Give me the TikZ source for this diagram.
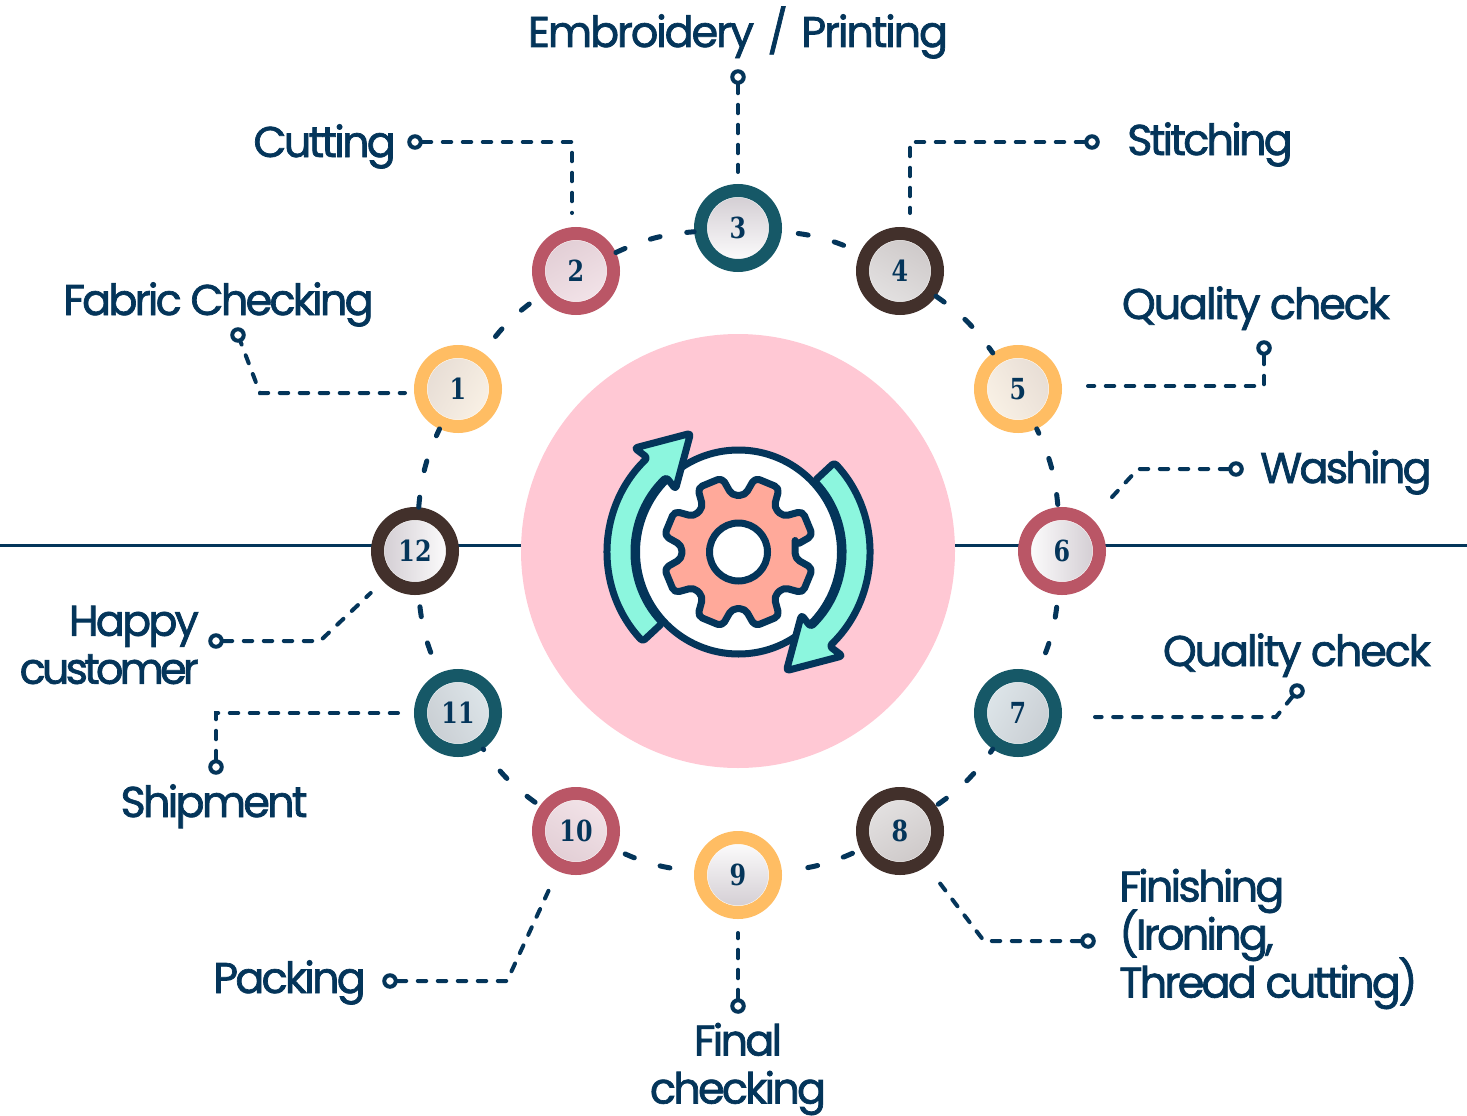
\documentclass[tikz,border=0pt]{standalone}
\usepackage{fontspec}
\setmainfont{Poppins}[LetterSpace=-6.5, FakeBold=1.6]
\newfontfamily\numfont{DejaVu Serif}[FakeStretch=0.82]
\usepackage{tikz}
\definecolor{navy}{HTML}{04355A}
\definecolor{blush}{HTML}{FFC8D4}
\definecolor{mint}{HTML}{8CF6DE}
\definecolor{salmon}{HTML}{FFA99A}
\definecolor{amber}{HTML}{FFBD63}
\definecolor{wine}{HTML}{BA5666}
\definecolor{petrol}{HTML}{165867}
\definecolor{umber}{HTML}{42302B}
\definecolor{creamtop}{RGB}{230,220,212}
\definecolor{creamend}{RGB}{250,242,230}
\definecolor{rosetop}{RGB}{225,205,212}
\definecolor{roseend}{RGB}{243,228,233}
\definecolor{stonetop}{RGB}{205,200,200}
\definecolor{stoneend}{RGB}{228,226,226}
\definecolor{steeltop}{RGB}{200,205,210}
\definecolor{steelend}{RGB}{222,230,234}
\definecolor{plaintop}{RGB}{208,202,208}
\newcommand{\tightlines}{\setlength{\lineskiplimit}{-50pt}}
\newcommand{\tightword}{\addfontfeature{LetterSpace=-9}}
\newcommand{\looseword}{\addfontfeature{LetterSpace=-5}}
\tikzstyle{stepring} = [circle, minimum size=75pt, inner sep=0pt, line width=13pt, text=navy, font=\numfont\bfseries\fontsize{29}{29}\selectfont, path picture={\draw[white, line width=2pt] (path picture bounding box.center) circle (31.5pt);}]
\tikzstyle{tintcream} = [top color=creamtop, bottom color=creamend]
\tikzstyle{tintrose} = [top color=rosetop, bottom color=roseend]
\tikzstyle{tintstone} = [top color=stonetop, bottom color=stoneend]
\tikzstyle{tintsteel} = [top color=steeltop, bottom color=steelend]
\tikzstyle{tintplain} = [top color=plaintop, bottom color=white]
\tikzstyle{tag} = [circle, draw=navy, fill=white, line width=4pt, minimum size=11.5pt, inner sep=0pt]
\tikzstyle{caption} = [text=navy, font=\fontsize{43}{48}\selectfont\tightlines, inner sep=0pt]
\tikzstyle{ringdash} = [draw=navy, line width=5pt, line cap=round, bend left=10, dash pattern=on 10pt off 27pt]
\tikzstyle{leader} = [draw=navy, line width=4pt, line cap=round, dash pattern=on 8.5pt off 11.5pt]
\tikzstyle{iconline} = [draw=navy, line width=7pt, line join=round]

\begin{document}
\begin{tikzpicture}[x=1pt, y=-1pt]
\useasboundingbox (0,0) rectangle (1467,1116);

% Axis and centre
\coordinate (leftedge) at (0,545.5);
\coordinate (rightedge) at (1467,545.5);
\draw[navy, line width=3.5pt] (leftedge) -- (rightedge);
\node[circle, fill=blush, minimum size=434pt, inner sep=0pt] (hub) at (738,551) {};

% Icon
\begin{scope}[shift={(738.5,552)}, y=1pt]
\draw[iconline, fill=white] (0,0) circle (102);
\foreach \rot in {0,180} {
\draw[iconline, fill=mint, rotate=\rot, rounded corners=3pt] (223:131) arc[start angle=223, end angle=134, radius=131] -- (135:147) -- (112:128) -- (135:89) -- (134:104) arc[start angle=134, end angle=223, radius=104] -- cycle;
}
\draw[iconline, fill=salmon, rounded corners=5pt] (6.5:57)
  \foreach \a in {22.5,67.5,...,337.5} {
    -- (\a-16:57) -- (\a-10:76) -- (\a+10:76) -- (\a+16:57)
  } -- cycle;
\draw[iconline, fill=white] (0,0) circle (29);
\end{scope}

% Nodes (Steps)
\node[stepring, draw=amber, tintcream, shading angle=60] (n1) at (458,389) {1};
\node[stepring, draw=wine, tintrose, shading angle=30] (n2) at (576,271) {2};
\node[stepring, draw=petrol, tintplain, shading angle=0] (n3) at (738,228) {3};
\node[stepring, draw=umber, tintstone, shading angle=330] (n4) at (900,271) {4};
\node[stepring, draw=amber, tintcream, shading angle=300] (n5) at (1018,389) {5};
\node[stepring, draw=wine, tintplain, shading angle=270] (n6) at (1062,551) {6};
\node[stepring, draw=petrol, tintsteel, shading angle=240] (n7) at (1018,713) {7};
\node[stepring, draw=umber, tintstone, shading angle=210] (n8) at (900,831) {8};
\node[stepring, draw=amber, tintplain, shading angle=180] (n9) at (738,875) {9};
\node[stepring, draw=wine, tintrose, shading angle=150] (n10) at (576,831) {10};
\node[stepring, draw=petrol, tintsteel, shading angle=120] (n11) at (458,713) {11};
\node[stepring, draw=umber, tintplain, shading angle=90] (n12) at (415,551) {12};

% Ends of the leaders
\node[tag] (t1) at (238,335) {};
\node[tag] (t2) at (415,142) {};
\node[tag] (t3) at (738,77) {};
\node[tag] (t4) at (1092,142) {};
\node[tag] (t5) at (1264,348) {};
\node[tag] (t6) at (1236,469) {};
\node[tag] (t7) at (1297,691) {};
\node[tag] (t8) at (1088,941) {};
\node[tag] (t9) at (738,1006) {};
\node[tag] (t10) at (390,981) {};
\node[tag] (t11) at (216,767) {};
\node[tag] (t12) at (216,641) {};

% Labels
\node[caption, anchor=base] (l3) at (738,47) {\looseword Embroidery\hspace{4pt} / \hspace{4pt}Printing};
\node[caption, anchor=base east] (l2) at (396,157) {Cutting};
\node[caption, anchor=base west] (l4) at (1127,155) {Stitching};
\node[caption, anchor=base west] (l1) at (63,315) {Fabric Checking};
\node[caption, anchor=base east] (l5) at (1390,319) {\looseword Quality check};
\node[caption, anchor=base west] (l6) at (1260,483) {Washing};
\node[caption, anchor=base east] (l7) at (1431,666) {\looseword Quality check};
\node[caption, anchor=east, align=right] (l12) at (199,645) {Happy\\{\tightword customer}};
\node[caption, anchor=base] (l11) at (214,817) {Shipment};
\node[caption, anchor=west, align=left] (l8) at (1119,939) {Finishing\\(Ironing,\\Thread cutting)};
\node[caption, anchor=base east] (l10) at (366,993) {Packing};
\node[caption, align=center] (l9) at (738,1069) {Final\\checking};

% Dashes round the ring
\draw[ringdash, dash phase=16.5pt] (n1) to (n2);
\draw[ringdash, dash phase=0pt] (n2) to (n3);
\draw[ringdash, dash phase=20.5pt] (n3) to (n4);
\draw[ringdash, dash phase=0pt] (n4) to (n5);
\draw[ringdash, dash phase=5pt] (n5) to (n6);
\draw[ringdash, dash phase=24.5pt] (n6) to (n7);
\draw[ringdash, dash phase=6pt] (n7) to (n8);
\draw[ringdash, dash phase=28.5pt] (n8) to (n9);
\draw[ringdash, dash phase=12.5pt] (n9) to (n10);
\draw[ringdash, dash phase=31pt] (n10) to (n11);
\draw[ringdash, dash phase=14.5pt] (n11) to (n12);
\draw[ringdash, dash phase=0pt] (n12) to (n1);

% Leaders
\coordinate (b1) at (260,393);
\coordinate (b2) at (572,142);
\coordinate (b4) at (910,142);
\coordinate (b5) at (1264,386);
\coordinate (b6) at (1138,469);
\coordinate (b7) at (1276,717);
\coordinate (b8) at (984,941);
\coordinate (b10) at (507,981);
\coordinate (b11) at (216,713);
\coordinate (b12) at (320,641);
\draw[leader, dash phase=6pt, shorten >=9pt] (t1) -- (b1) -- (b1 -| n1.west);
\draw[leader, shorten >=14pt] (t2) -- (b2) -- (b2 |- n2.north);
\draw[leader, shorten >=12pt] (t3) -- (n3);
\draw[leader, shorten >=14pt] (t4) -- (b4) -- (b4 |- n4.north);
\draw[leader, shorten >=26pt] (t5) -- (b5) -- (b5 -| n5.east);
\draw[leader, shorten >=29pt] (t6) -- (b6) -- (n6);
\draw[leader, shorten >=33pt] (t7) -- (b7) -- (b7 -| n7.east);
\draw[leader, shorten >=13pt] (t8) -- (b8) -- (n8);
\draw[leader, shorten >=14pt] (t9) -- (n9);
\draw[leader, shorten >=20pt] (t10) -- (b10) -- (n10);
\draw[leader, shorten >=16pt] (t11) -- (b11) -- (b11 -| n11.west);
\draw[leader, shorten >=17pt] (t12) -- (b12) -- (n12);

\end{tikzpicture}
\end{document}
